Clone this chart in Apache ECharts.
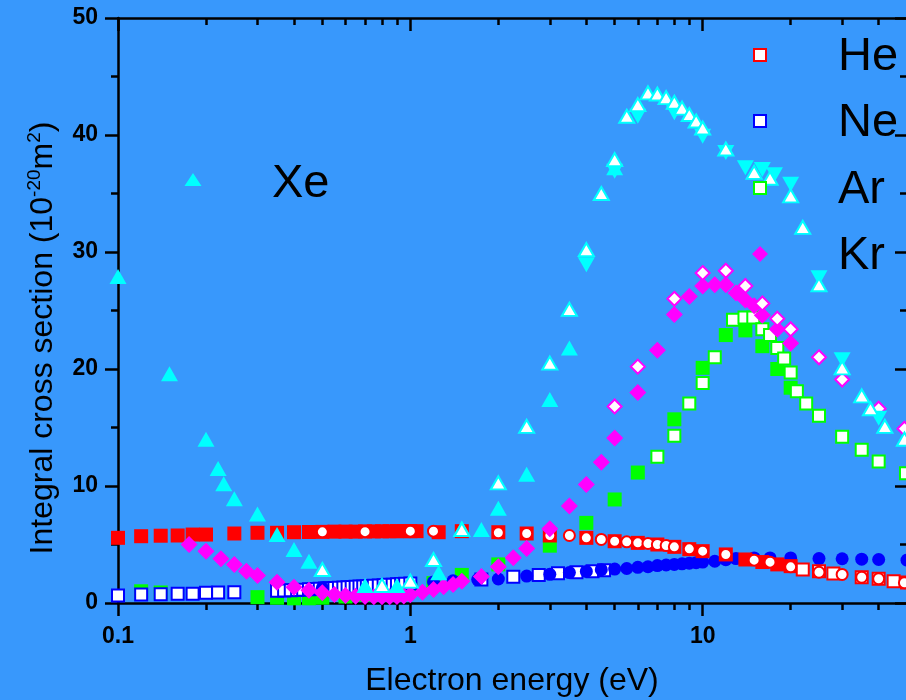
<!DOCTYPE html>
<html><head><meta charset="utf-8">
<script src="https://cdn.jsdelivr.net/npm/echarts@6/dist/echarts.min.js"></script>
<style>html,body{margin:0;padding:0;background:#3898fc;}#c{width:906px;height:700px;}</style>
</head><body><div id="c"></div>
<script>
// ---------- data ----------
const xMajorTicks = [0.1, 1, 10];
const xMinorTicks = [0.2,0.3,0.4,0.5,0.6,0.7,0.8,0.9,2,3,4,5,6,7,8,9,20,30,40,50];

// He
const heFillX = [0.1,0.12,0.14,0.16,0.18,0.2,0.25,0.3,0.35,0.4,0.45,0.5,0.55,0.6,0.65,0.7,0.75,0.8,0.85,0.9,0.95,1.0,1.05,1.25,1.5,2.0,2.5,3.0,4.0,5.0,6.0,7.0,8.0,9.0,10,12,14,16,18,20];
const heFillY = [5.57,5.71,5.75,5.77,5.85,5.85,5.94,6.0,6.0,6.05,6.07,6.08,6.1,6.1,6.1,6.12,6.12,6.13,6.13,6.14,6.14,6.14,6.14,6.05,6.14,6.05,5.94,5.77,5.57,5.28,5.14,5.0,4.8,4.6,4.43,4.15,3.72,3.5,3.3,3.15];
const heOpenX = [22,25,28,35,40,45,50];
const heOpenY = [2.86,2.72,2.52,2.2,2.07,1.86,1.75];
const heCircX = [0.5,0.7,1.0,1.2,2.0,2.5,3.0,3.5,4.0,4.5,5.0,5.5,6.0,6.5,7.0,7.5,8.0,9.0,10,12,15,17,20,25,30,35,40,49];
const heCircY = [6.08,6.1,6.14,6.14,6.0,5.94,5.77,5.77,5.57,5.43,5.28,5.23,5.14,5.09,5.0,4.91,4.8,4.63,4.43,4.15,3.66,3.49,3.09,2.63,2.44,2.2,2.07,1.73];

// Ne
const neOpenX = [0.1,0.12,0.14,0.16,0.18,0.2,0.22,0.25,0.35,0.37,0.39,0.41,0.43,0.45,0.47,0.49,0.51,0.53,0.55,0.57,0.59,0.61,0.63,0.65,0.67,0.69,0.71,0.73,0.75,0.78,0.81,0.84,0.87,0.9,0.93,0.96,1.0,1.75,2.25,2.75,3.2,3.7,4.2,4.6];
const neOpenY = [0.64,0.73,0.75,0.78,0.8,0.87,0.9,0.92,1.05,1.07,1.1,1.12,1.14,1.17,1.19,1.21,1.23,1.26,1.28,1.3,1.32,1.34,1.36,1.38,1.4,1.42,1.44,1.46,1.48,1.5,1.52,1.55,1.57,1.6,1.62,1.64,1.66,2.0,2.25,2.4,2.55,2.63,2.72,2.8];
const neCircX = [0.5,1.2,1.4,1.7,2.0,2.5,3.0,3.5,4.0,4.5,5.0,5.5,6.0,6.5,7.0,7.5,8.0,8.5,9.0,9.5,10,11,12,13,15,17,20,25,30,35,40,50];
const neCircY = [1.3,1.8,1.9,2.0,2.05,2.3,2.45,2.6,2.7,2.85,2.9,2.95,3.05,3.1,3.2,3.25,3.3,3.35,3.4,3.45,3.5,3.57,3.7,3.8,3.85,3.85,3.85,3.8,3.78,3.75,3.72,3.66];

// Ar
const arFillX = [0.12,0.14,0.3,0.35,0.4,0.45,0.5,0.6,0.7,0.8,0.9,1.0,1.2,1.5,2.0,3.0,4.0,5.0,6.0,8.0,10,12,14,16,18,20];
const arFillY = [1.0,0.9,0.5,0.45,0.4,0.4,0.45,0.55,0.7,0.85,1.0,1.2,1.7,2.4,3.3,4.9,6.85,8.85,11.15,15.7,20.1,22.9,23.3,21.95,20.0,18.4];
const arOpenX = [7.0,8.0,9.0,10,11,12.7,13.9,14.9,16,17,18,19,20,21,22.6,25,30,35,40,49.6];
const arOpenY = [12.5,14.3,17.05,18.8,21.0,24.2,24.4,24.4,23.4,22.9,21.8,20.9,19.7,18.1,17.05,16.0,14.2,13.1,12.1,11.1];

// Kr
const krFillX = [0.175,0.2,0.225,0.25,0.275,0.3,0.35,0.4,0.45,0.5,0.55,0.6,0.65,0.7,0.75,0.8,0.85,0.9,0.95,1.0,1.1,1.2,1.3,1.4,1.5,1.75,2.0,2.25,2.5,3.0,3.5,4.0,4.5,5.0,6.0,7.0,8.0,9.0,10,11,12,13,14,15,16,18,20];
const krFillY = [5.0,4.43,3.78,3.29,2.72,2.35,1.78,1.35,1.1,0.87,0.73,0.64,0.58,0.55,0.53,0.53,0.53,0.55,0.6,0.7,0.92,1.15,1.38,1.58,1.86,2.27,3.09,3.86,4.65,6.35,8.28,10.13,12.03,14.1,18.0,21.6,24.66,26.2,27.1,27.2,27.2,26.5,25.9,25.4,24.6,23.4,22.2];
const krOpenX = [5,6,8,10,12,14,16,18,20,25,30,40,49];
const krOpenY = [16.8,20.2,26.0,28.2,28.4,27.1,25.6,24.3,23.4,21.0,19.1,16.6,14.9];

// Xe
const xeUpX = [0.1,0.15,0.2,0.22,0.23,0.25,0.3,0.35,0.4,0.45,0.7,0.9,1.25,1.5,1.75,2.0,2.5,3.0,3.5,5.0];
const xeUpY = [27.9,19.6,14.0,11.5,10.2,8.9,7.6,5.85,4.57,3.57,1.5,1.5,2.58,6.4,6.28,8.1,11.0,17.4,21.8,37.2];
const xeOpenX = [0.5,0.8,1.0,1.2,1.5,2.0,2.5,3.0,3.5,4.0,4.5,5.0,5.5,6.0,6.5,7.0,7.5,8.0,8.5,9.0,9.5,10,12,15,17,20,22,25,30,35,37.5,42,49];
const xeOpenY = [2.86,1.5,1.87,3.72,6.28,10.27,15.1,20.5,25.1,30.2,35.0,37.9,41.6,42.6,43.6,43.5,43.2,42.8,42.3,41.75,41.2,40.6,38.8,36.8,36.3,34.8,32.1,27.2,20.1,17.7,16.6,15.1,14.0];
const xeDownX = [4.0,5.0,6.0,8.0,10,12,14,16,17.6,20,25,30,40];
const xeDownY = [28.9,36.9,41.6,41.9,39.9,38.5,37.2,37.05,36.6,35.8,27.8,20.8,15.8];

const legendNames = ['He','Ne','Ar','Kr'];
const xeLabel = 'Xe';
const xTitle = 'Electron energy (eV)';

// ---------- chart ----------
const FONT = 'Liberation Sans, Arial, sans-serif';
const RED='#ff0000', BLUE='#0000ff', GREEN='#00ff00', MAG='#ff00ff', CYAN='#00ffff';
const pts = (xs, ys) => xs.map((x, i) => [x, ys[i]]);
function sc(name, xs, ys, symbol, size, fill, stroke, bw, rot) {
  return {
    type: 'scatter', name, data: pts(xs, ys), symbol, symbolSize: size,
    symbolRotate: rot || 0, silent: true, animation: false,
    itemStyle: { color: fill, borderColor: stroke || fill, borderWidth: bw || 0, opacity: 1 }
  };
}
const series = [
  sc('Ar filled', arFillX, arFillY, 'rect', 14, GREEN),
  sc('Ne open', neOpenX, neOpenY, 'rect', 12, '#fff', BLUE, 2),
  sc('Ne circle', neCircX, neCircY, 'circle', 13, BLUE),
  sc('He filled', heFillX, heFillY, 'rect', 14, RED),
  sc('He open', heOpenX, heOpenY, 'rect', 12, '#fff', RED, 2),
  sc('He circle', heCircX, heCircY, 'circle', 11, '#fff', RED, 2),
  sc('Ar open', arOpenX, arOpenY, 'rect', 12, '#fff', GREEN, 2),
  sc('Kr filled', krFillX, krFillY, 'diamond', 17, MAG),
  sc('Kr open', krOpenX, krOpenY, 'diamond', 14, '#fff', MAG, 2),
  sc('Xe down', xeDownX, xeDownY, 'triangle', [17, 15], CYAN, CYAN, 0, 180),
  sc('Xe up', xeUpX, xeUpY, 'triangle', [17, 15], CYAN),
  sc('Xe open', xeOpenX, xeOpenY, 'triangle', [15, 13], '#fff', CYAN, 2)
];

const lineSt = { color: '#000', width: 2.5 };
const xBase = { type: 'log', logBase: 10, min: 0.1, max: 50, gridIndex: 0, splitLine: { show: false } };
const yBase = { type: 'value', min: 0, max: 50, interval: 10, splitLine: { show: false } };
const fmt = v => String(+(+v).toPrecision(3));

// legend graphics
const legendColors = [RED, BLUE, GREEN, MAG];
const legendTop = [55, 121, 188, 254];
const graphic = [];
legendNames.forEach((n, i) => {
  if (i < 3) {
    graphic.push({ type: 'rect', x: 760, y: legendTop[i], shape: { x: -6, y: -6, width: 12, height: 12 },
      style: { fill: '#fff', stroke: legendColors[i], lineWidth: 2 }, z: 100 });
  } else {
    graphic.push({ type: 'polygon', x: 760, y: legendTop[i], shape: { points: [[0,-8],[8,0],[0,8],[-8,0]] },
      style: { fill: legendColors[i] }, z: 100 });
  }
  graphic.push({ type: 'text', x: 838, y: legendTop[i] + 2,
    style: { text: n, fontSize: 47, fontFamily: FONT, fill: '#000', verticalAlign: 'middle', align: 'left' }, z: 100 });
});
graphic.push({ type: 'polygon', x: 193, y: 180, shape: { points: [[0,-7],[8.5,6],[-8.5,6]] }, style: { fill: CYAN }, z: 100 });
graphic.push({ type: 'text', x: 272, y: 184,
  style: { text: xeLabel, fontSize: 47, fontFamily: FONT, fill: '#000', verticalAlign: 'middle', align: 'left' }, z: 100 });
// axis titles
graphic.push({ type: 'text', x: 512, y: 681,
  style: { text: xTitle, fontSize: 32, fontFamily: FONT, fill: '#000', align: 'center', verticalAlign: 'middle' }, z: 100 });
graphic.push({ type: 'text', x: 43, y: 338, rotation: Math.PI / 2,
  style: { text: '{a|Integral cross section (10}{s|-20}{a|m}{s|2}{a|)}', align: 'center', verticalAlign: 'middle',
    rich: { a: { fontSize: 32, fontFamily: FONT, fill: '#000', lineHeight: 36 },
            s: { fontSize: 19, fontFamily: FONT, fill: '#000', lineHeight: 20, verticalAlign: 'top' } } }, z: 100 });

const labelSt = { fontSize: 23, fontWeight: 'bold', color: '#000', fontFamily: FONT };
const option = {
  backgroundColor: '#3898fc',
  animation: false,
  textStyle: { fontFamily: FONT },
  grid: { left: 118, top: 18, width: 789, height: 585, containLabel: false, outerBoundsMode: 'none' },
  xAxis: [
    Object.assign({}, xBase, { position: 'bottom',
      axisLine: { show: true, lineStyle: lineSt },
      axisTick: { show: true, customValues: xMajorTicks, length: 13, lineStyle: lineSt },
      axisLabel: Object.assign({ show: true, customValues: xMajorTicks, formatter: fmt, margin: 22 }, labelSt) }),
    Object.assign({}, xBase, { position: 'bottom',
      axisLine: { show: false },
      axisTick: { show: true, customValues: xMinorTicks, length: 7, lineStyle: lineSt },
      axisLabel: { show: false } }),
    Object.assign({}, xBase, { position: 'top',
      axisLine: { show: true, lineStyle: lineSt },
      axisTick: { show: true, inside: true, customValues: xMajorTicks, length: 13, lineStyle: lineSt },
      axisLabel: { show: false } }),
    Object.assign({}, xBase, { position: 'top',
      axisLine: { show: false },
      axisTick: { show: true, inside: true, customValues: xMinorTicks, length: 7, lineStyle: lineSt },
      axisLabel: { show: false } })
  ],
  yAxis: [
    Object.assign({}, yBase, { position: 'left',
      axisLine: { show: true, lineStyle: lineSt },
      axisTick: { show: true, length: 13, lineStyle: lineSt },
      minorTick: { show: true, splitNumber: 2, length: 7, lineStyle: lineSt },
      minorSplitLine: { show: false },
      axisLabel: Object.assign({ show: true, margin: 20 }, labelSt) }),
    Object.assign({}, yBase, { position: 'right',
      axisLine: { show: true, lineStyle: lineSt },
      axisTick: { show: true, inside: true, length: 12, lineStyle: lineSt },
      minorTick: { show: true, splitNumber: 2, length: 7, lineStyle: lineSt },
      minorSplitLine: { show: false },
      axisLabel: { show: false } })
  ],
  series: series.map(s => Object.assign(s, { xAxisIndex: 0, yAxisIndex: 0 })),
  graphic
};
const chart = echarts.init(document.getElementById('c'), null, { renderer: 'canvas' });
chart.setOption(option);
</script>
</body></html>
